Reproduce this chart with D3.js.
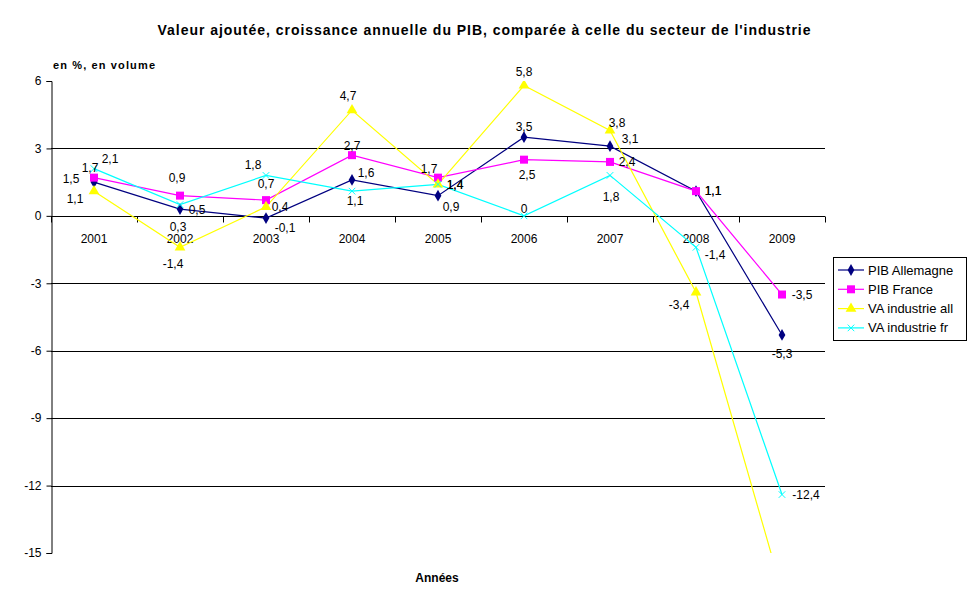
<!DOCTYPE html>
<html>
<head>
<meta charset="utf-8">
<script src="https://cdn.jsdelivr.net/npm/d3@7"></script>
<style>
  body { margin: 0; background: #fff; }
  svg { font-family: "Liberation Sans", Arial, sans-serif; }
</style>
</head>
<body>
<svg id="chart" width="970" height="605"></svg>
<script>
const years = ["2001", "2002", "2003", "2004", "2005", "2006", "2007", "2008", "2009"];
const pibAllemagne = [1.5, 0.3, -0.1, 1.6, 0.9, 3.5, 3.1, 1.1, -5.3];
const pibFrance = [1.7, 0.9, 0.7, 2.7, 1.7, 2.5, 2.4, 1.1, -3.5];
const vaIndustrieAll = [1.1, -1.4, 0.4, 4.7, 1.4, 5.8, 3.8, -3.4, -16.7];
const vaIndustrieFr = [2.1, 0.5, 1.8, 1.1, 1.4, 0, 1.8, -1.4, -12.4];
const yTicks = [6, 3, 0, -3, -6, -9, -12, -15];

// label offsets (px from the point), like hand-placed excel labels
const offAll = [[-23, -3], [-2, 18], [19, 10], [14, -7], [13, 11], [0, -10], [20, -7], [17, 0], [0, 19]];
const offFr = [[-4, -10], [-3, -18], [0, -16], [0, -9], [-9, -9], [3, 15], [17, 0], [17, 0], [20, 0]];
const offVaAll = [[-19, 8], [-7, 16], [14, 0], [-4, -14], [17, 0], [0, -14], [7, -8], [-17, 13], null];
const offVaFr = [[16, -10], [17, 5], [-13, -11], [3, 10], [17, 0], [0, -7], [1, 21], [19, 7], [24, 0]];

const series = [
  {name: "PIB Allemagne", values: pibAllemagne, color: "#000080", symbol: d3.symbolDiamond, size: 40, off: offAll},
  {name: "PIB France", values: pibFrance, color: "#FF00FF", symbol: d3.symbolSquare, size: 64, off: offFr},
  {name: "VA industrie all", values: vaIndustrieAll, color: "#FFFF00", symbol: d3.symbolTriangle, size: 50, off: offVaAll},
  {name: "VA industrie fr", values: vaIndustrieFr, color: "#00FFFF", symbol: d3.symbolX, size: 30, off: offVaFr}
];

const margin = {top: 81, left: 51};
const plotW = 774, plotH = 472;

const svg = d3.select("#chart");

svg.append("text")
    .attr("x", 484).attr("y", 35)
    .attr("text-anchor", "middle")
    .attr("textLength", 653).attr("lengthAdjust", "spacing")
    .style("font-size", "14px").style("font-weight", "bold")
    .text("Valeur ajoutée, croissance annuelle du PIB, comparée à celle du secteur de l'industrie");

svg.append("text")
    .attr("x", 53).attr("y", 69)
    .attr("textLength", 102).attr("lengthAdjust", "spacing")
    .style("font-size", "11px").style("font-weight", "bold")
    .text("en %, en volume");

svg.append("text")
    .attr("x", 437).attr("y", 582)
    .attr("text-anchor", "middle")
    .style("font-size", "12px").style("font-weight", "bold")
    .text("Années");

const x = d3.scaleBand().domain(years).range([0, plotW]);
const y = d3.scaleLinear().domain([-15, 6]).range([plotH, 0]);

const g = svg.append("g").attr("transform", "translate(" + margin.left + "," + margin.top + ")");

// grid
g.selectAll(".grid")
    .data(yTicks.filter(d => d !== 6 && d !== -15))
    .enter().append("line")
    .attr("x1", 0).attr("x2", plotW)
    .attr("y1", d => Math.round(y(d)) + 0.5).attr("y2", d => Math.round(y(d)) + 0.5)
    .attr("stroke", "#000").attr("stroke-width", 1);

// y axis
const yAxis = d3.axisLeft(y).tickValues(yTicks).tickSize(5).tickFormat(d => d);
const ya = g.append("g").attr("transform", "translate(0.5,0)").call(yAxis);
ya.select(".domain").attr("stroke", "#000");
ya.selectAll(".tick line").attr("stroke", "#000");
ya.selectAll(".tick text").attr("x", -10).style("font-size", "12px")
    .style("font-family", "'Liberation Sans', Arial, sans-serif");

// x axis at zero
const y0 = Math.round(y(0)) + 0.5;
g.selectAll(".xtick")
    .data(d3.range(years.length + 1))
    .enter().append("line")
    .attr("x1", i => Math.round(i * x.bandwidth()) + 0.5)
    .attr("x2", i => Math.round(i * x.bandwidth()) + 0.5)
    .attr("y1", y0).attr("y2", y0 + 6)
    .attr("stroke", "#000");

g.selectAll(".xlab")
    .data(years)
    .enter().append("text")
    .attr("x", d => x(d) + x.bandwidth() / 2)
    .attr("y", y0 + 26)
    .attr("text-anchor", "middle")
    .style("font-size", "12px")
    .text(d => d);

svg.append("clipPath").attr("id", "clip")
  .append("rect").attr("x", 0).attr("y", 0).attr("width", plotW).attr("height", plotH);

const plot = g.append("g").attr("clip-path", "url(#clip)");
const line = d3.line().x((d, i) => x(years[i]) + x.bandwidth() / 2).y(d => y(d));

series.forEach(s => {
  plot.append("path")
      .datum(s.values)
      .attr("fill", "none")
      .attr("stroke", s.color)
      .attr("stroke-width", 1.2)
      .attr("d", line);
});

series.forEach(s => {
  const sym = d3.symbol().type(s.symbol).size(s.size);
  plot.selectAll(null)
      .data(s.values)
      .enter().append("path")
      .attr("d", sym)
      .attr("transform", (d, i) => "translate(" + (x(years[i]) + x.bandwidth() / 2) + "," + y(d) + ")")
      .attr("fill", s.symbol === d3.symbolX ? "none" : s.color)
      .attr("stroke", s.color)
      .attr("stroke-width", s.symbol === d3.symbolX ? 1 : 0);
});

series.forEach(s => {
  g.selectAll(null)
      .data(s.values.map((v, i) => ({v: v, i: i, o: s.off[i]})).filter(d => d.o))
      .enter().append("text")
      .attr("x", d => x(years[d.i]) + x.bandwidth() / 2 + d.o[0])
      .attr("y", d => y(d.v) + d.o[1])
      .attr("dy", "0.35em")
      .attr("text-anchor", "middle")
      .style("font-size", "12px")
      .text(d => String(d.v).replace(".", ","));
});

// legend
const lg = svg.append("g").attr("transform", "translate(833,257)");
lg.append("rect").attr("x", 0.5).attr("y", 0.5).attr("width", 133).attr("height", 83)
    .attr("fill", "#fff").attr("stroke", "#000");
series.forEach((s, i) => {
  const ly = 13 + i * 19.3;
  lg.append("line").attr("x1", 5).attr("x2", 31).attr("y1", ly).attr("y2", ly)
      .attr("stroke", s.color).attr("stroke-width", 1.2);
  lg.append("path")
      .attr("d", d3.symbol().type(s.symbol).size(s.size)())
      .attr("transform", "translate(18," + ly + ")")
      .attr("fill", s.symbol === d3.symbolX ? "none" : s.color)
      .attr("stroke", s.color)
      .attr("stroke-width", s.symbol === d3.symbolX ? 1 : 0);
  lg.append("text").attr("x", 35).attr("y", ly).attr("dy", "0.35em")
      .style("font-size", "13px").text(s.name);
});
</script>
</body>
</html>
